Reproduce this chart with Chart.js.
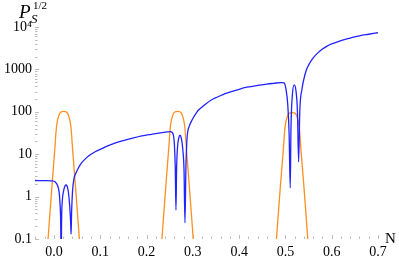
<!DOCTYPE html>
<html>
<head>
<meta charset="utf-8">
<script src="https://cdn.jsdelivr.net/npm/chart.js@4.4.1/dist/chart.umd.min.js"></script>
<style>
  html, body { margin: 0; padding: 0; background: #fff; }
  #wrap { width: 399px; height: 261px; position: relative; }
</style>
</head>
<body>
<div id="wrap"><canvas id="chart"></canvas></div>
<script>
// blue curve
const blueN = [-0.041, -0.02, -0.005, 0.003, 0.008, 0.011, 0.013, 0.0145, 0.0155, 0.0165,
    0.018, 0.021, 0.024, 0.026, 0.028, 0.031, 0.034, 0.036, 0.037, 0.038,
    0.040, 0.043, 0.048, 0.053, 0.060, 0.070, 0.080, 0.090, 0.100, 0.115,
    0.130, 0.150, 0.170, 0.190, 0.210, 0.230, 0.245, 0.252, 0.255, 0.258,
    0.260, 0.262, 0.2635, 0.265, 0.267, 0.270, 0.272, 0.275, 0.278, 0.281,
    0.283, 0.285, 0.287, 0.289, 0.293, 0.298, 0.309, 0.320, 0.330, 0.340,
    0.352, 0.365, 0.380, 0.400, 0.417, 0.440, 0.460, 0.475, 0.490, 0.497,
    0.501, 0.505, 0.508, 0.5104, 0.512, 0.515, 0.519, 0.523, 0.526, 0.5285,
    0.531, 0.536, 0.540, 0.545, 0.550, 0.560, 0.570, 0.580, 0.590, 0.600,
    0.620, 0.640, 0.660, 0.680, 0.700];
const blueVal = [2.4, 2.38, 2.35, 2.2, 1.8, 1.3, 0.7, 0.25, 0.03, 0.3,
    0.8, 1.4, 1.8, 1.9, 1.8, 1.3, 0.6, 0.25, 0.13, 0.4,
    1.3, 2.6, 3.7, 4.8, 6.3, 8.2, 10, 11.6, 13, 15.5,
    18, 21, 24, 27, 29.5, 32, 33.5, 34, 33, 28,
    18, 5, 0.48, 5, 15, 25, 28, 24, 14, 4,
    0.24, 5, 20, 34, 48, 63, 100, 130, 160, 190,
    220, 255, 290, 340, 380, 420, 450, 470, 490, 480,
    350, 150, 30, 1.6, 40, 250, 430, 300, 100, 6.6,
    100, 355, 600, 955, 1260, 1860, 2450, 3020, 3550, 4000,
    4800, 5500, 6200, 6750, 7330];

// orange bumps (null = gap between bumps)
const orangeN = [-0.0135, -0.009, -0.004, 0.0015, 0.0055, 0.011, 0.015, 0.021, 0.027, 0.031, 0.0365, 0.0405, 0.046, 0.051, 0.0555,
    0.15,
    0.2325, 0.237, 0.242, 0.2475, 0.2515, 0.257, 0.261, 0.267, 0.273, 0.277, 0.2825, 0.2865, 0.292, 0.297, 0.3015,
    0.4,
    0.480, 0.4845, 0.4895, 0.495, 0.499, 0.5045, 0.5085, 0.5145, 0.5205, 0.5245, 0.530, 0.534, 0.5395, 0.5445, 0.549];
const orangeVal = [0.08, 0.37, 2, 12, 45, 85, 99, 102, 99, 85, 45, 12, 2, 0.37, 0.08,
    null,
    0.08, 0.37, 2, 12, 45, 85, 99, 102, 99, 85, 45, 12, 2, 0.37, 0.08,
    null,
    0.08, 0.37, 2, 11, 42, 80, 93, 96, 93, 80, 42, 11, 2, 0.37, 0.08];

const xTicks = [0, 0.1, 0.2, 0.3, 0.4, 0.5, 0.6, 0.7];
const xTickLabels = ['0.0', '0.1', '0.2', '0.3', '0.4', '0.5', '0.6', '0.7'];
const yTicks = [0.1, 1, 10, 100, 1000, 10000];
const yTickLabels = ['0.1', '1', '10', '100', '1000', '10\u2074'];

const serif = '"Liberation Serif", "Times New Roman", serif';
const tickGray = '#bdbdbd';

// small inward tick marks like the original, plus axis titles
const axisDecor = {
    id: 'axisDecor',
    beforeDatasetsDraw(chart) {
        const { ctx, chartArea, scales } = chart;
        ctx.save();
        ctx.strokeStyle = tickGray;
        ctx.lineWidth = 1;
        ctx.beginPath();
        // y ticks
        for (let e = -1; e < 4; e++) {
            for (let m = 1; m < 10; m++) {
                const v = m * Math.pow(10, e);
                const y = Math.round(scales.y.getPixelForValue(v)) + 0.5;
                const len = m === 1 ? 4 : 2.5;
                ctx.moveTo(chartArea.left, y);
                ctx.lineTo(chartArea.left + len, y);
            }
        }
        const yTop = Math.round(scales.y.getPixelForValue(10000)) + 0.5;
        ctx.moveTo(chartArea.left, yTop);
        ctx.lineTo(chartArea.left + 4, yTop);
        // x ticks
        for (let i = -2; i <= 35; i++) {
            const v = i * 0.02;
            if (v < scales.x.min || v > scales.x.max + 1e-9) continue;
            const x = Math.round(scales.x.getPixelForValue(v)) + 0.5;
            const len = i % 5 === 0 ? 4 : 2.5;
            ctx.moveTo(x, chartArea.bottom);
            ctx.lineTo(x, chartArea.bottom - len);
        }
        ctx.stroke();
        ctx.restore();
    },
    afterDraw(chart) {
        const { ctx } = chart;
        ctx.save();
        ctx.fillStyle = '#000';
        ctx.textBaseline = 'alphabetic';
        ctx.textAlign = 'left';
        ctx.font = 'italic 19px ' + serif;
        ctx.fillText('P', 19, 18);
        ctx.font = 'italic 13px ' + serif;
        ctx.fillText('S', 31, 23);
        ctx.font = '11px ' + serif;
        ctx.fillText('1/2', 33, 9);
        ctx.font = '15px ' + serif;
        ctx.fillText('N', 385, 243);
        ctx.restore();
    }
};

new Chart(document.getElementById('chart'), {
    type: 'line',
    data: {
        datasets: [{
            label: 'blue',
            data: blueN.map((n, i) => ({ x: n, y: blueVal[i] })),
            borderColor: '#2222ff',
            borderWidth: 1.3,
            pointRadius: 0,
            cubicInterpolationMode: 'monotone',
            spanGaps: false
        }, {
            label: 'orange',
            data: orangeN.map((n, i) => ({ x: n, y: orangeVal[i] })),
            borderColor: '#ff8f1f',
            borderWidth: 1.3,
            pointRadius: 0,
            cubicInterpolationMode: 'monotone',
            spanGaps: false
        }]
    },
    options: {
        responsive: true,
        maintainAspectRatio: false,
        animation: false,
        layout: { padding: { top: 27, right: 21, left: 0, bottom: 0 } },
        plugins: {
            legend: { display: false },
            tooltip: { enabled: false }
        },
        scales: {
            x: {
                type: 'linear',
                min: -0.041,
                max: 0.7,
                grid: { display: false, drawTicks: false },
                border: { display: false },
                afterBuildTicks: s => { s.ticks = xTicks.map(v => ({ value: v })); },
                afterFit: s => { s.height = 22; },
                ticks: {
                    autoSkip: false,
                    maxRotation: 0,
                    padding: 5,
                    color: '#000',
                    font: { family: serif, size: 14 },
                    callback: (v, i) => xTickLabels[i]
                }
            },
            y: {
                type: 'logarithmic',
                min: 0.1,
                max: 10000,
                grid: { display: false, drawTicks: false },
                border: { display: false },
                afterBuildTicks: s => { s.ticks = yTicks.map(v => ({ value: v })); },
                afterFit: s => { s.width = 35; },
                ticks: {
                    padding: 3,
                    color: '#000',
                    font: { family: serif, size: 14 },
                    callback: (v, i) => yTickLabels[i]
                }
            }
        }
    },
    plugins: [axisDecor]
});
</script>
</body>
</html>
